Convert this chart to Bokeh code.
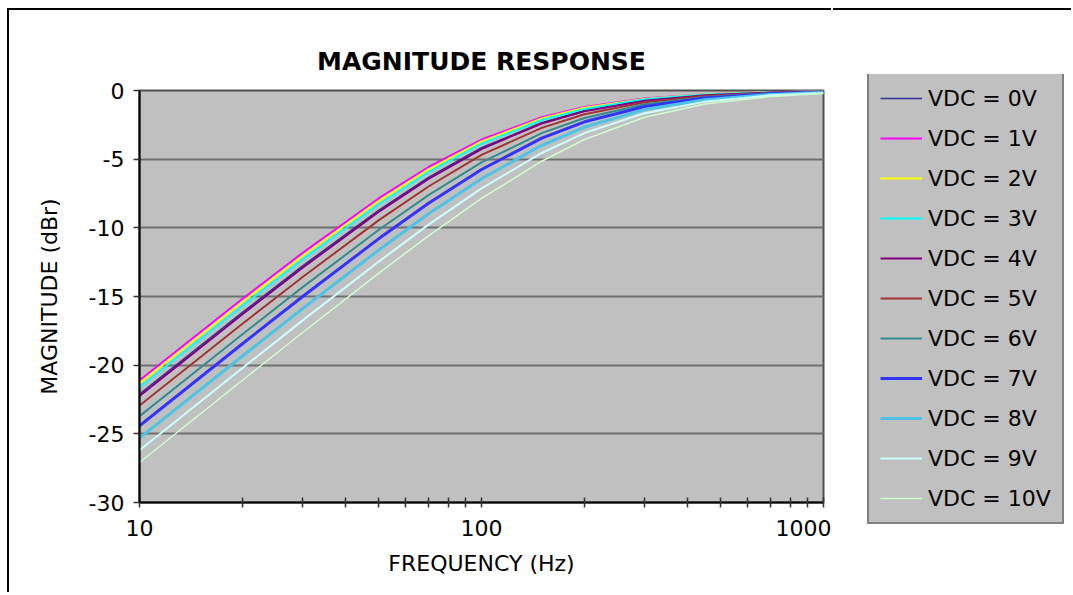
from bokeh.plotting import figure
from bokeh.models import FixedTicker, Legend, LegendItem, Range1d
from bokeh.embed import file_html
from bokeh.resources import INLINE

# ---- data ----
freq_hz = [10, 20, 30, 50, 70, 100, 150, 200, 300, 450, 700, 1000]

vdc_0v = [-22.10, -16.16, -12.77, -8.72, -6.33, -4.17, -2.35, -1.47, -0.72, -0.33, -0.14, -0.07]
vdc_1v = [-21.10, -15.17, -11.82, -7.86, -5.57, -3.57, -1.95, -1.20, -0.58, -0.27, -0.11, -0.05]
vdc_2v = [-21.32, -15.40, -12.03, -8.05, -5.74, -3.70, -2.04, -1.26, -0.61, -0.28, -0.12, -0.06]
vdc_3v = [-21.61, -15.68, -12.30, -8.30, -5.95, -3.87, -2.15, -1.34, -0.64, -0.30, -0.13, -0.06]
vdc_4v = [-22.24, -16.29, -12.90, -8.84, -6.43, -4.26, -2.40, -1.51, -0.74, -0.34, -0.15, -0.07]
vdc_5v = [-22.94, -16.99, -13.58, -9.46, -6.99, -4.69, -2.72, -1.73, -0.85, -0.40, -0.17, -0.08]
vdc_6v = [-23.71, -17.75, -14.32, -10.16, -7.62, -5.24, -3.10, -2.00, -1.00, -0.47, -0.20, -0.10]
vdc_7v = [-24.42, -18.44, -15.00, -10.80, -8.21, -5.75, -3.47, -2.28, -1.16, -0.55, -0.24, -0.12]
vdc_8v = [-25.31, -19.33, -15.87, -11.63, -8.98, -6.42, -3.99, -2.66, -1.39, -0.67, -0.29, -0.14]
vdc_9v = [-26.20, -20.21, -16.74, -12.47, -9.77, -7.13, -4.55, -3.10, -1.65, -0.81, -0.35, -0.18]
vdc_10v = [-27.09, -21.10, -17.62, -13.31, -10.58, -7.86, -5.15, -3.57, -1.95, -0.98, -0.43, -0.22]

series_labels = ["VDC = 0V", "VDC = 1V", "VDC = 2V", "VDC = 3V", "VDC = 4V", "VDC = 5V",
                 "VDC = 6V", "VDC = 7V", "VDC = 8V", "VDC = 9V", "VDC = 10V"]
series_values = [vdc_0v, vdc_1v, vdc_2v, vdc_3v, vdc_4v, vdc_5v,
                 vdc_6v, vdc_7v, vdc_8v, vdc_9v, vdc_10v]
series_colors = ["#333399", "#FF00FF", "#FFFF00", "#00FFFF", "#800080", "#A33333",
                 "#338C8C", "#3333FF", "#4DC3E6", "#CCFFFF", "#CCFFCC"]
series_widths = [1.5, 2, 2, 2, 2, 2, 2, 3, 3, 2, 1.5]

x_major_ticks = [10, 100, 1000]
x_minor_ticks = [20, 30, 40, 50, 60, 70, 80, 90, 200, 300, 400, 500, 600, 700, 800, 900]
x_tick_labels = ["10", "100", "1000"]
y_ticks = [-30, -25, -20, -15, -10, -5, 0]
y_tick_labels = ["-30", "-25", "-20", "-15", "-10", "-5", "0"]

FONT = "DejaVu Sans"
FS = "22px"

# ---------------- main chart ----------------
p = figure(width=824, height=584, x_axis_type="log",
           x_range=Range1d(10, 1000), y_range=Range1d(-30, 0),
           output_backend="svg", toolbar_location=None,
           title="MAGNITUDE RESPONSE",
           x_axis_label="FREQUENCY (Hz)", y_axis_label="MAGNITUDE (dBr)")
p.styles = {"border-left": "2px solid #000000", "border-top": "2px solid #000000",
            "margin-left": "7px", "margin-top": "8px"}

p.min_border_left = 130
p.min_border_right = 10
p.min_border_top = 80
p.min_border_bottom = 92

p.background_fill_color = "#C0C0C0"
p.border_fill_color = "#FFFFFF"
p.outline_line_color = "#505050"
p.outline_line_width = 2

p.title.align = "center"
p.title.text_font = FONT
p.title.text_font_size = "25px"
p.title.text_font_style = "bold"
p.title.text_color = "#000000"
p.title.standoff = 29

p.xgrid.visible = False
p.ygrid.ticker = FixedTicker(ticks=y_ticks)
p.ygrid.grid_line_color = "#707070"
p.ygrid.grid_line_width = 2

xa = p.xaxis[0]
xa.ticker = FixedTicker(ticks=x_major_ticks, minor_ticks=x_minor_ticks)
xa.major_label_overrides = {t: lab for t, lab in zip(x_major_ticks, x_tick_labels)}
xa.axis_line_color = "#000000"
xa.axis_line_width = 2
xa.major_tick_in = 5
xa.major_tick_out = 5
xa.minor_tick_in = 5
xa.minor_tick_out = 5
xa.major_tick_line_color = "#333333"
xa.minor_tick_line_color = "#333333"
xa.major_tick_line_width = 1.5
xa.minor_tick_line_width = 1.5
xa.major_label_text_font = FONT
xa.major_label_text_font_size = FS
xa.major_label_text_color = "#000000"
xa.major_label_standoff = 12
xa.axis_label_text_font = FONT
xa.axis_label_text_font_size = FS
xa.axis_label_text_font_style = "normal"
xa.axis_label_text_color = "#000000"
xa.axis_label_standoff = 12

ya = p.yaxis[0]
ya.ticker = FixedTicker(ticks=y_ticks, minor_ticks=[])
ya.major_label_overrides = {t: lab for t, lab in zip(y_ticks, y_tick_labels)}
ya.axis_line_color = "#000000"
ya.axis_line_width = 2
ya.major_tick_in = 0
ya.major_tick_out = 6
ya.major_tick_line_color = "#333333"
ya.major_tick_line_width = 1.5
ya.major_label_text_font = FONT
ya.major_label_text_font_size = FS
ya.major_label_text_color = "#000000"
ya.major_label_standoff = 9
ya.axis_label_text_font = FONT
ya.axis_label_text_font_size = FS
ya.axis_label_text_font_style = "normal"
ya.axis_label_text_color = "#000000"
ya.axis_label_standoff = 24

for vals, col, w in zip(series_values, series_colors, series_widths):
    p.line(freq_hz, vals, line_color=col, line_width=w)

# ---------------- legend panel (separate root, placed to the right) ----------------
q = figure(width=238, height=530, x_range=Range1d(0, 1), y_range=Range1d(0, 1),
           output_backend="svg", toolbar_location=None,
           x_axis_location=None, y_axis_location=None)
q.styles = {"position": "absolute", "left": "833px", "top": "8px",
            "border-top": "2px solid #000000"}
q.min_border_left = 32
q.min_border_right = 0
q.min_border_top = 64
q.min_border_bottom = 14
q.outline_line_color = None
q.background_fill_color = "#FFFFFF"
q.border_fill_color = "#FFFFFF"
q.grid.visible = False

items = []
for lab, vals, col, w in zip(series_labels, series_values, series_colors, series_widths):
    # same series, but outside this panel's ranges: only its legend sample shows
    r = q.line(freq_hz, vals, line_color=col, line_width=w)
    items.append(LegendItem(label=lab, renderers=[r]))

legend = Legend(items=items, location=(2, 2), margin=0,
                label_text_font=FONT, label_text_font_size=FS, label_text_color="#000000",
                glyph_width=42, glyph_height=26, label_height=26, label_width=123,
                label_standoff=6, spacing=14, padding=11,
                background_fill_color="#C0C0C0", background_fill_alpha=1.0,
                border_line_color="#404040", border_line_width=2)
q.add_layout(legend)

open("out.html", "w").write(file_html([p, q], INLINE))
